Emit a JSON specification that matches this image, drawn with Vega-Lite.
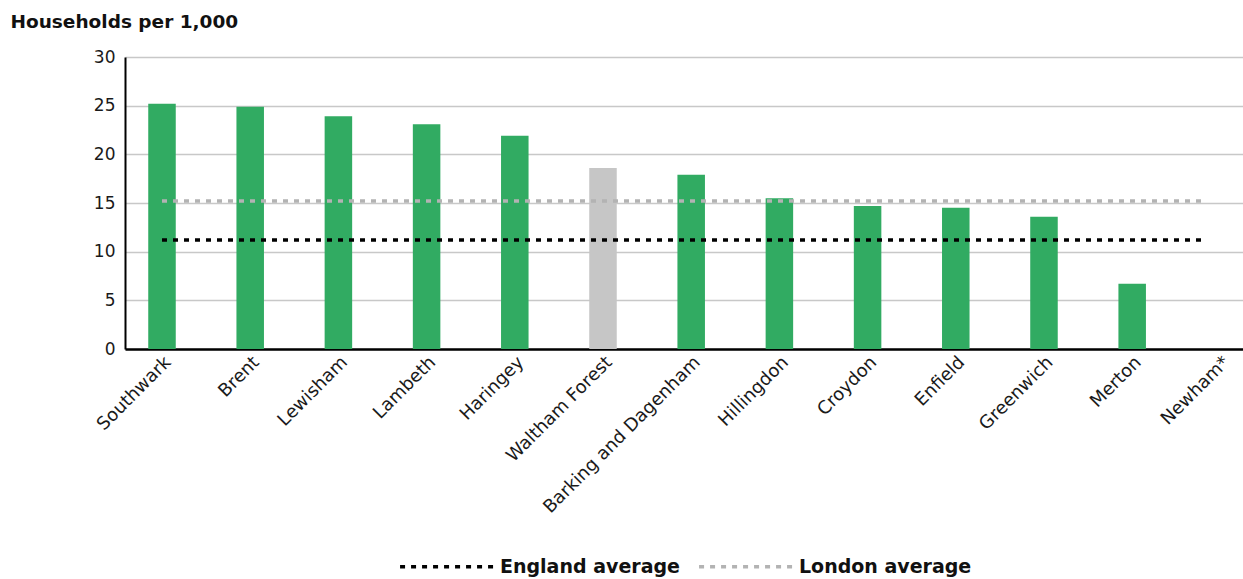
{
  "$schema": "https://vega.github.io/schema/vega-lite/v6.json",
  "width": 1118,
  "height": 292,
  "autosize": "none",
  "padding": {"left": 125, "top": 57, "right": 0, "bottom": 230},
  "config": {"font": "DejaVu Sans", "view": {"stroke": null}},
  "layer": [
    {
      "data": {
        "values": [
          {"borough": "Southwark", "value": 25.2},
          {"borough": "Brent", "value": 24.9},
          {"borough": "Lewisham", "value": 23.9},
          {"borough": "Lambeth", "value": 23.1},
          {"borough": "Haringey", "value": 21.9},
          {"borough": "Waltham Forest", "value": 18.6},
          {"borough": "Barking and Dagenham", "value": 17.9},
          {"borough": "Hillingdon", "value": 15.5},
          {"borough": "Croydon", "value": 14.7},
          {"borough": "Enfield", "value": 14.5},
          {"borough": "Greenwich", "value": 13.6},
          {"borough": "Merton", "value": 6.7},
          {"borough": "Newham*", "value": null}
        ]
      },
      "mark": {"type": "bar"},
      "encoding": {
        "x": {
          "field": "borough",
          "type": "nominal",
          "sort": null,
          "scale": {
            "domain": ["Southwark", "Brent", "Lewisham", "Lambeth", "Haringey", "Waltham Forest", "Barking and Dagenham", "Hillingdon", "Croydon", "Enfield", "Greenwich", "Merton", "Newham*"],
            "paddingInner": 0.688,
            "paddingOuter": 0.182,
            "align": 0.724
          },
          "axis": {
            "title": null,
            "labelAngle": -45,
            "labelFontSize": 18,
            "labelLimit": 400,
            "labelColor": "#1a1a1a",
            "labelPadding": 4,
            "ticks": false,
            "domainColor": "#000000",
            "domainWidth": 2.5,
            "grid": false
          }
        },
        "y": {
          "field": "value",
          "type": "quantitative",
          "scale": {"domain": [0, 30], "nice": false},
          "axis": {
            "values": [0, 5, 10, 15, 20, 25, 30],
            "title": "Households per 1,000",
            "titleAngle": 0,
            "titleX": -115,
            "titleY": -30,
            "titleAlign": "left",
            "titleBaseline": "alphabetic",
            "titleFontSize": 18.5,
            "titleFontWeight": "bold",
            "titleColor": "#111111",
            "titleLimit": 400,
            "labelFontSize": 17,
            "labelColor": "#1a1a1a",
            "labelPadding": 10,
            "ticks": false,
            "domainColor": "#000000",
            "domainWidth": 2,
            "grid": true,
            "gridColor": "#c8c8c8",
            "gridWidth": 1.5
          }
        },
        "color": {
          "condition": {"test": "datum.borough === 'Waltham Forest'", "value": "#c6c6c6"},
          "value": "#31ab62"
        }
      }
    },
    {
      "data": {
        "values": [
          {"series": "England average", "value": 11.2, "start": "Southwark", "end": "Newham*"},
          {"series": "London average", "value": 15.2, "start": "Southwark", "end": "Newham*"}
        ]
      },
      "mark": {"type": "rule", "strokeDash": [5, 6], "strokeWidth": 3.5, "x2Offset": -18},
      "encoding": {
        "x": {"field": "start", "type": "nominal"},
        "x2": {"field": "end"},
        "y": {"field": "value", "type": "quantitative"},
        "color": {
          "field": "series",
          "type": "nominal",
          "scale": {"domain": ["England average", "London average"], "range": ["#000000", "#b3b3b3"]},
          "legend": {
            "title": null,
            "orient": "none",
            "direction": "horizontal",
            "legendX": 273,
            "legendY": 460,
            "symbolType": "stroke",
            "symbolDash": [5, 6],
            "symbolStrokeWidth": 3.5,
            "symbolSize": 9000,
            "labelFontSize": 19,
            "labelFontWeight": "bold",
            "labelLimit": 400,
            "labelColor": "#111111",
            "labelOffset": 3,
            "columnPadding": 12
          }
        }
      }
    }
  ]
}
